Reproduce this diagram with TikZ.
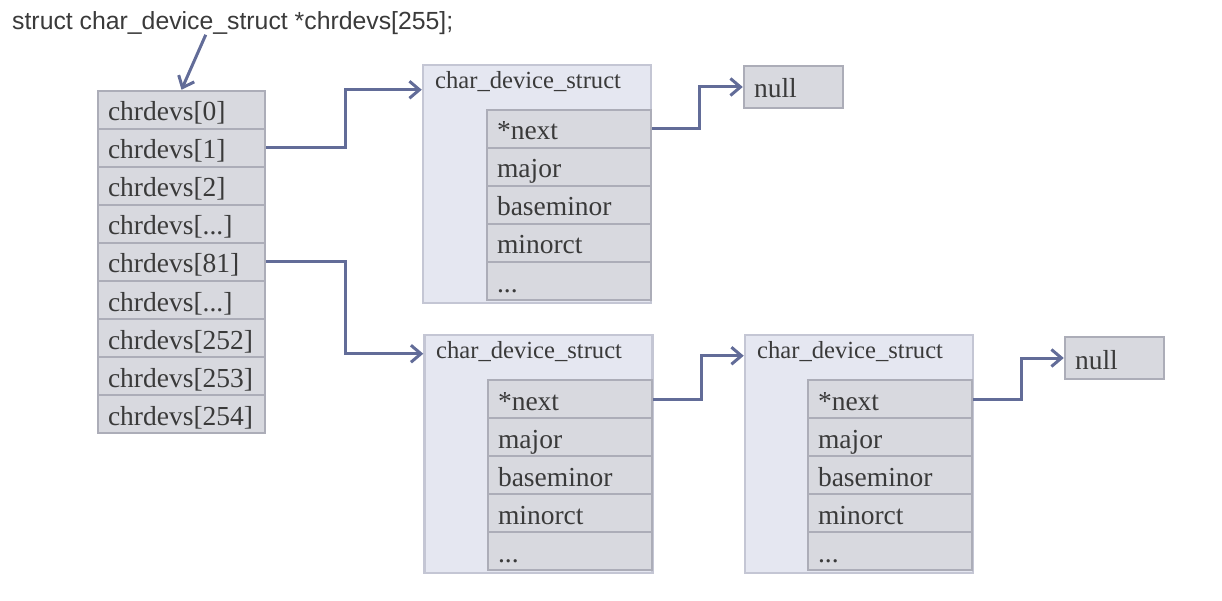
\documentclass[tikz,border=0pt]{standalone}
\usepackage{fontspec}
\setmainfont{Liberation Serif}
\newfontfamily\declfont{Liberation Sans}
\usetikzlibrary{arrows.meta}

\definecolor{cellfill}{RGB}{216,217,223}
\definecolor{cellline}{RGB}{172,173,184}
\definecolor{structfill}{RGB}{229,231,241}
\definecolor{structline}{RGB}{196,198,212}
\definecolor{linkcol}{RGB}{98,108,152}
\definecolor{txt}{RGB}{58,58,58}

\begin{document}
\begin{tikzpicture}[x=1pt, y=-1pt,
    every node/.style={text=txt, font=\fontsize{27.5}{30}\selectfont},
    cell/.style={draw=cellline, fill=cellfill, line width=2.5pt, inner xsep=10pt,
                 inner ysep=0pt, minimum height=38pt, align=left,
                 text height=22pt, text depth=0pt},
    arrcell/.style={cell, text width=147pt},
    field/.style={cell, text width=144pt},
    nullbox/.style={cell, text width=79pt, minimum height=42pt},
    devstruct/.style={draw=structline, fill=structfill, line width=2.5pt,
                      minimum width=228pt, minimum height=238pt},
    title/.style={anchor=west, inner sep=0pt, font=\fontsize{24.6}{28}\selectfont},
    link/.style={draw=linkcol, line width=3pt, -{Straight Barb[length=10pt,width=17pt]}}
]
\useasboundingbox (0,0) rectangle (1222,601);

\node[anchor=west, inner sep=0pt, font=\declfont\fontsize{24.8}{28}\selectfont]
  (decl) at (12,23) {struct char\_device\_struct *chrdevs[255];};

% the array of pointers
\node[arrcell] (a0)   at (181.5,110) {chrdevs[0]};
\node[arrcell] (a1)   at (181.5,148) {chrdevs[1]};
\node[arrcell] (a2)   at (181.5,186) {chrdevs[2]};
\node[arrcell] (a3)   at (181.5,224) {chrdevs[...]};
\node[arrcell] (a81)  at (181.5,262) {chrdevs[81]};
\node[arrcell] (a5)   at (181.5,300) {chrdevs[...]};
\node[arrcell] (a252) at (181.5,338) {chrdevs[252]};
\node[arrcell] (a253) at (181.5,376) {chrdevs[253]};
\node[arrcell] (a254) at (181.5,414) {chrdevs[254]};

% first char_device_struct
\node[devstruct] (s1) at (537,184) {};
\node[title] (s1t) at (435,82) {char\_device\_struct};
\node[field] (s1n) at (569,129) {*next};
\node[field] (s1m) at (569,167) {major};
\node[field] (s1b) at (569,205) {baseminor};
\node[field] (s1c) at (569,243) {minorct};
\node[field] (s1d) at (569,281) {...};

\node[nullbox] (null1) at (793.5,87) {null};

% second char_device_struct
\node[devstruct] (s2) at (538.5,454) {};
\node[title] (s2t) at (436,352) {char\_device\_struct};
\node[field] (s2n) at (570,399) {*next};
\node[field] (s2m) at (570,437) {major};
\node[field] (s2b) at (570,475) {baseminor};
\node[field] (s2c) at (570,513) {minorct};
\node[field] (s2d) at (570,551) {...};

% third char_device_struct
\node[devstruct] (s3) at (859,454) {};
\node[title] (s3t) at (757,352) {char\_device\_struct};
\node[field] (s3n) at (890,399) {*next};
\node[field] (s3m) at (890,437) {major};
\node[field] (s3b) at (890,475) {baseminor};
\node[field] (s3c) at (890,513) {minorct};
\node[field] (s3d) at (890,551) {...};

\node[nullbox] (null2) at (1114.5,358) {null};

% pointers
\draw[link] ([xshift=-27pt]decl.south) -- (a0.north);
\draw[link] (a1.east) -- ++(79,0) |- ([yshift=-26pt]s1.north west);
\draw[link] (a81.east) -- ++(79,0) |- ([yshift=-20pt]s2.north west);
\draw[link] (s1n.east) -- ++(47,0) |- (null1.west);
\draw[link] (s2n.east) -- ++(48,0) |- ([yshift=-22pt]s3.north west);
\draw[link] (s3n.east) -- ++(48,0) |- (null2.west);

\end{tikzpicture}
\end{document}
